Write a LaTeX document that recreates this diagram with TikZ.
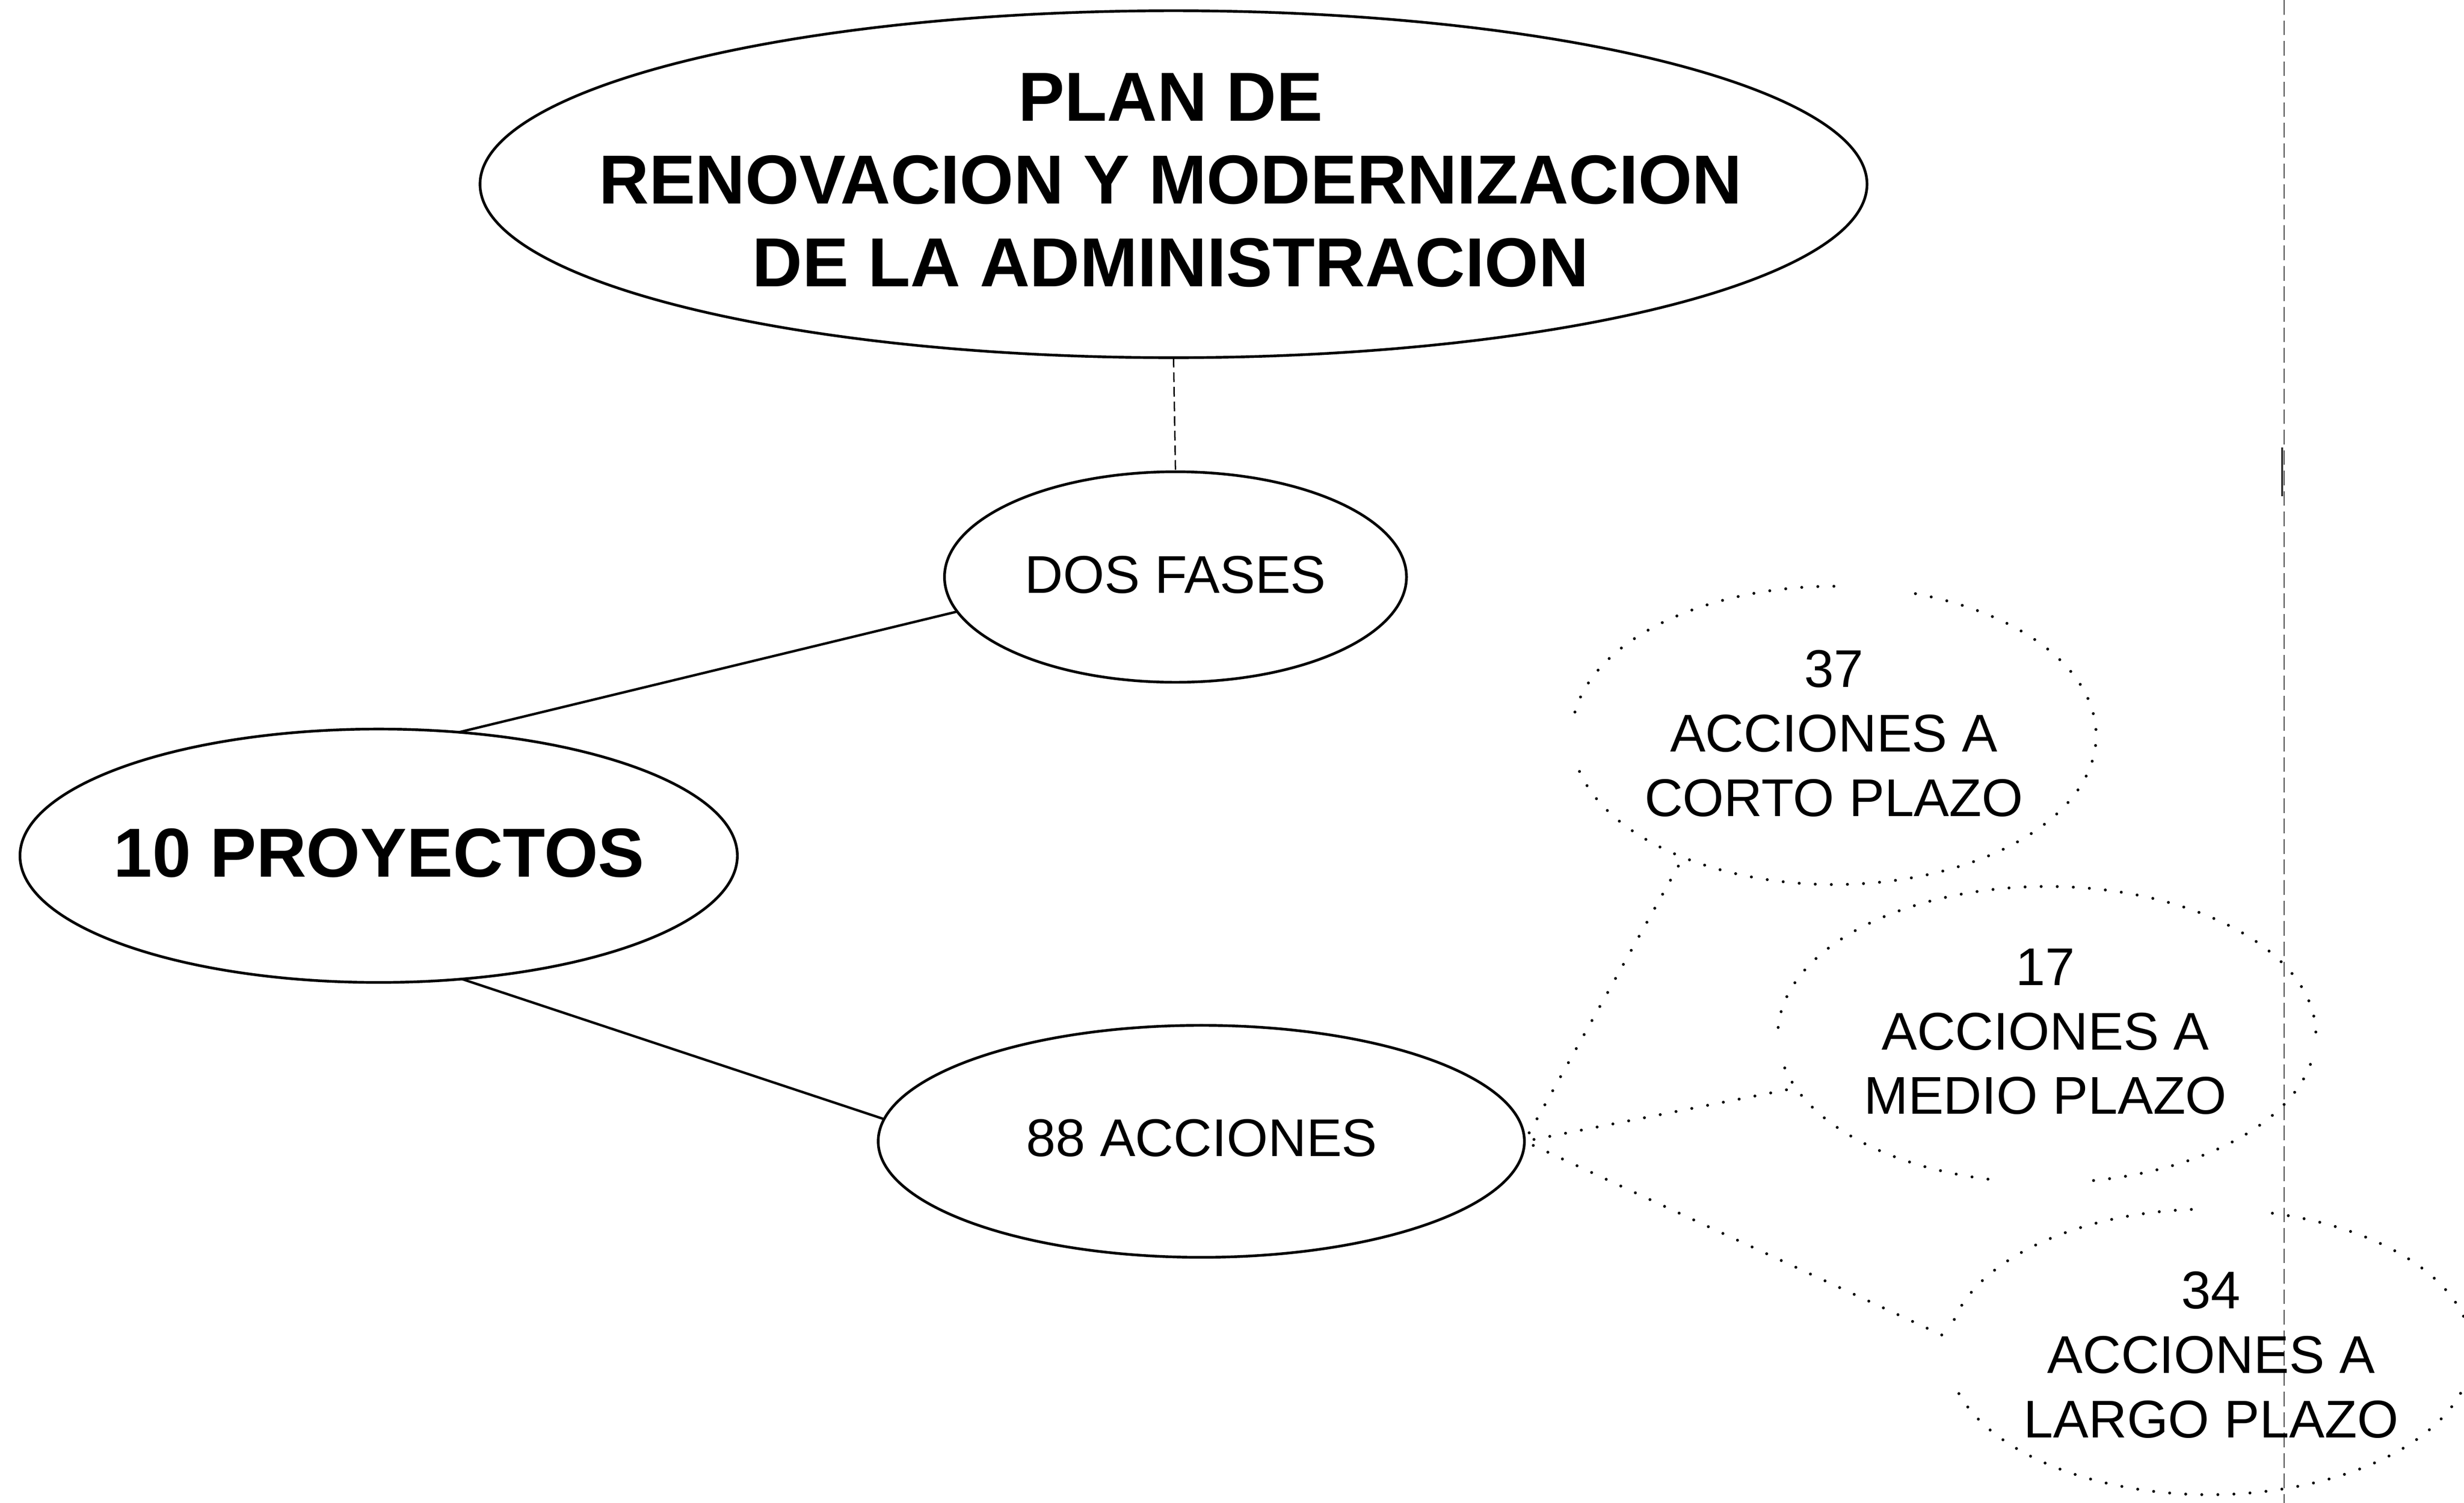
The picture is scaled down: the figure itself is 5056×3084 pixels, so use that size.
\documentclass[tikz,border=0pt]{standalone}
\usepackage{fontspec}
\setmainfont{Liberation Sans}
\usetikzlibrary{shapes.geometric}
\begin{document}
\begin{tikzpicture}[x=0.1mm,y=-0.1mm,
  oval/.style={ellipse,draw,line width=0.55mm,inner sep=0pt,outer sep=0pt},
  ghost/.style={ellipse,draw=none,inner sep=0pt,outer sep=0pt},
  dotline/.style={line width=0.6mm,line cap=round,dash pattern=on 0pt off 3.3mm},
  solidline/.style={line width=0.5mm},
  thindash/.style={line width=0.28mm,dash pattern=on 2mm off 1mm},
  artifact/.style={line width=0.25mm,black!75,dash pattern=on 3mm off 1.2mm},
  reg/.style={font=\fontsize{31pt}{37.6pt}\selectfont,align=center,inner sep=0pt},
  bigtxt/.style={font=\fontsize{40.5pt}{48.4pt}\selectfont\bfseries,align=center,inner sep=0pt},
  projtxt/.style={font=\fontsize{40.5pt}{48pt}\selectfont\bfseries,align=center,inner sep=0pt}
]
\fill[white] (0,0) rectangle (5056,3084);
\useasboundingbox (0,0) rectangle (5056,3084);

% scan artifact line on the right
\draw[artifact] (4687,0) -- (4687,3084);
\draw[line width=0.45mm,black!80] (4683,918) -- (4683,1018);

% solid ellipses
\node[oval,minimum width=284.6mm,minimum height=71.2mm] (plan) at (2408,378) {};
\node[oval,minimum width=94.8mm,minimum height=43.2mm] (dos) at (2412,1184) {};
\node[oval,minimum width=147.2mm,minimum height=52mm] (proj) at (777,1756) {};
\node[oval,minimum width=132.6mm,minimum height=47.6mm] (acc) at (2465,2342) {};

% dotted ellipses (named, drawn as arcs with gaps)
\node[ghost,minimum width=107.6mm,minimum height=61.2mm] (c37) at (3763,1509) {};
\node[ghost,minimum width=110.4mm,minimum height=60.8mm] (c17) at (4200,2123) {};
\node[ghost,minimum width=107.6mm,minimum height=58.6mm] (c34) at (4534,2774) {};

\draw[dotline] (c37.center) ++(90:53.8mm and 30.6mm) arc[start angle=90,end angle=171,x radius=53.8mm,y radius=30.6mm];
\draw[dotline] (c37.center) ++(194:53.8mm and 30.6mm) arc[start angle=194,end angle=434,x radius=53.8mm,y radius=30.6mm];

\draw[dotline] (c17.center) ++(1:55.2mm and 30.4mm) arc[start angle=1,end angle=182,x radius=55.2mm,y radius=30.4mm];
\draw[dotline] (c17.center) ++(193:55.2mm and 30.4mm) arc[start angle=193,end angle=258,x radius=55.2mm,y radius=30.4mm];
\draw[dotline] (c17.center) ++(280:55.2mm and 30.4mm) arc[start angle=280,end angle=350,x radius=55.2mm,y radius=30.4mm];

\draw[dotline] (c34.center) ++(94:53.8mm and 29.3mm) arc[start angle=94,end angle=172,x radius=53.8mm,y radius=29.3mm];
\draw[dotline] (c34.center) ++(197:53.8mm and 29.3mm) arc[start angle=197,end angle=437,x radius=53.8mm,y radius=29.3mm];

% texts
\node[bigtxt] (plantxt) at (2402,370) {PLAN DE\\RENOVACION Y MODERNIZACION\\DE LA ADMINISTRACION};
\node[reg] (dostxt) at (2412,1179) {DOS FASES};
\node[projtxt] (projtxt) at (778,1750) {10 PROYECTOS};
\node[reg] (acctxt) at (2466,2335) {88 ACCIONES};
\node[reg] (t37) at (3763,1505) {37\\ACCIONES A\\CORTO PLAZO};
\node[reg] (t17) at (4197,2117) {17\\ACCIONES A\\MEDIO PLAZO};
\node[reg] (t34) at (4537,2780) {34\\ACCIONES A\\LARGO PLAZO};

% connectors
\draw[thindash] (plan.south) -- (dos.north);
\draw[solidline] (proj.57) -- (dos.189);
\draw[solidline] (proj.-56) -- (acc.176);
\draw[dotline,shorten <=2mm] (acc.east) -- (c37.219);
\draw[dotline,shorten <=2mm] (acc.east) -- (c17.192);
\draw[dotline,shorten <=2mm] (acc.east) -- (c34.177);
\end{tikzpicture}
\end{document}
